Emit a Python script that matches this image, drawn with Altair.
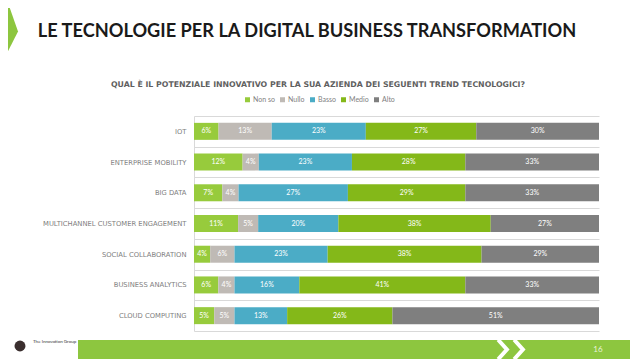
import altair as alt
import pandas as pd

categories = ["IOT", "ENTERPRISE MOBILITY", "BIG DATA", "MULTICHANNEL CUSTOMER ENGAGEMENT",
              "SOCIAL COLLABORATION", "BUSINESS ANALYTICS", "CLOUD COMPUTING"]
series = ["Non so", "Nullo", "Basso", "Medio", "Alto"]
non_so = [6, 12, 7, 11, 4, 6, 5]
nullo = [13, 4, 4, 5, 6, 4, 5]
basso = [23, 23, 27, 20, 23, 16, 13]
medio = [27, 28, 29, 38, 38, 41, 26]
alto = [30, 33, 33, 27, 29, 33, 51]
colors = ["#97CB3C", "#BFBAB5", "#4BACC6", "#84B819", "#7F7F7F"]

title_text = "LE TECNOLOGIE PER LA DIGITAL BUSINESS TRANSFORMATION"
subtitle_text = "QUAL È IL POTENZIALE INNOVATIVO PER LA SUA AZIENDA DEI SEGUENTI TREND TECNOLOGICI?"
page_number = "16"
logo_text = "The Innovation Group"

rows = []
for si, (s, vals) in enumerate(zip(series, [non_so, nullo, basso, medio, alto])):
    for c, v in zip(categories, vals):
        rows.append({"cat": c, "serie": s, "value": v, "order": si})
df = pd.DataFrame(rows)

base = alt.Chart(df).transform_stack(
    stack="value", groupby=["cat"], sort=[alt.SortField("order")],
    as_=["x0", "x1"], offset="normalize"
).transform_calculate(
    mid="(datum.x0 + datum.x1) / 2", label="datum.value + '%'"
)

yenc = alt.Y("cat:N", sort=categories,
             scale=alt.Scale(paddingInner=0, paddingOuter=0),
             axis=alt.Axis(title=None, ticks=False, grid=True, tickBand="extent",
                           gridColor="#D9D9D9", domainColor="#D9D9D9",
                           labelFont="DejaVu Sans", labelFontSize=6.8,
                           labelColor="#808080", labelPadding=8))

bars = base.mark_bar(size=17).encode(
    y=yenc,
    x=alt.X("x0:Q", scale=alt.Scale(domain=[0, 1]), axis=None),
    x2="x1:Q",
    color=alt.Color("serie:N", scale=alt.Scale(domain=series, range=colors),
                    legend=alt.Legend(orient="none", legendX=50, legendY=-20,
                                      direction="horizontal", title=None,
                                      symbolType="square", symbolSize=25,
                                      symbolStrokeWidth=0,
                                      labelFont="Lato", labelFontSize=7,
                                      labelColor="#7F7F7F", labelOffset=2,
                                      columnPadding=4, padding=0)),
)

labels = base.mark_text(color="white", fontSize=7, font="Lato").encode(
    y=alt.Y("cat:N", sort=categories),
    x=alt.X("mid:Q"),
    text="label:N",
)

one = pd.DataFrame({"t": [0]})

title = alt.Chart(one).mark_text(font="Lato", fontWeight="bold", fontSize=18.2,
                                 color="#1A1A1A", align="center", baseline="alphabetic").encode(
    x=alt.value(113), y=alt.value(-79), text=alt.value(title_text))

subtitle = alt.Chart(one).mark_text(font="DejaVu Sans", fontWeight="bold", fontSize=7.8,
                                    color="#5F5F5F", align="center", baseline="middle").encode(
    x=alt.value(124), y=alt.value(-31), text=alt.value(subtitle_text))

arrow = alt.Chart(one).mark_point(
    shape="M -0.286 -1 L -0.063 -1 L 0.286 0 L -0.222 1 L -0.286 1 Z",
    filled=True, color="#8DC63F", opacity=1, size=3969, strokeWidth=0).encode(
    x=alt.value(-185), y=alt.value(-84.5))

footer = alt.Chart(one).mark_rect(color="#8DC63F").encode(
    x=alt.value(-116), x2=alt.value(436), y=alt.value(224), y2=alt.value(245))

chev1 = alt.Chart(one).mark_point(
    shape="M -0.5 -1 L 0.4 0 L -0.5 1", filled=False, color="white",
    strokeWidth=4, size=380, opacity=1).encode(x=alt.value(309), y=alt.value(233.5))
chev2 = alt.Chart(one).mark_point(
    shape="M -0.5 -1 L 0.4 0 L -0.5 1", filled=False, color="white",
    strokeWidth=4, size=380, opacity=1).encode(x=alt.value(325), y=alt.value(233.5))

pnum = alt.Chart(one).mark_text(font="Lato", fontSize=8, color="#E8F2D6",
                                align="center", baseline="middle").encode(
    x=alt.value(404), y=alt.value(234), text=alt.value(page_number))

logo_icon = alt.Chart(one).mark_point(shape="circle", filled=True, color="#3A2E2E",
                                      size=120, opacity=1).encode(
    x=alt.value(-174), y=alt.value(230))
logo = alt.Chart(one).mark_text(font="Lato", fontSize=4.5, color="#333333",
                                align="left", baseline="middle").encode(
    x=alt.value(-161), y=alt.value(226), text=alt.value(logo_text))

chart = alt.layer(
    footer, chev1, chev2, pnum, logo_icon, logo, arrow, title, subtitle, bars, labels
).properties(
    width=405, height=215,
    autosize=alt.AutoSizeParams(type="none"),
    padding={"left": 186, "top": 108, "right": 31, "bottom": 28},
    background="white",
).configure_view(stroke=None)

chart.save("out.html", embed_options={"renderer": "svg", "actions": False})
